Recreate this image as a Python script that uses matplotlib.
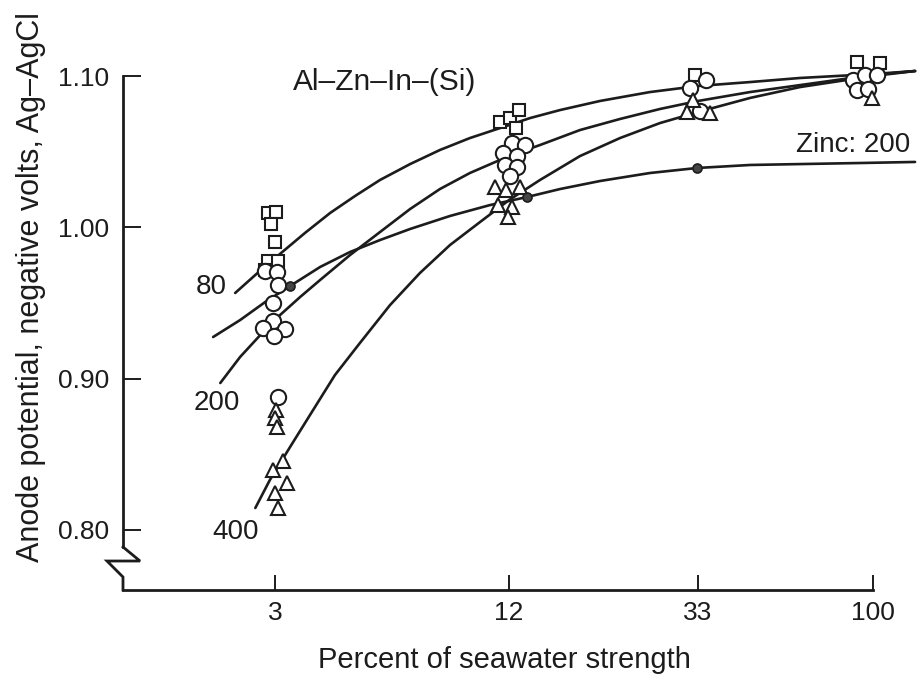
import numpy as np
import matplotlib
matplotlib.use('Agg')
import matplotlib.pyplot as plt

plt.rcParams['font.family'] = ['Liberation Sans', 'DejaVu Sans']

# percent seawater tick values and volts tick values
x_ticks = [3, 12, 33, 100]
y_ticks = [0.80, 0.90, 1.00, 1.10]

# measured points (percent, volts) for each anode current density
sq_x = [2.88, 3.02, 2.93, 3.0, 2.88, 3.05, 2.83, 11.38, 12.06, 12.66, 12.46, 32.5, 90.3, 104.5]
sq_y = [1.0095, 1.010, 1.0022, 0.9903, 0.9777, 0.9777, 0.9718, 1.0696, 1.0722, 1.0775, 1.0656, 1.1007, 1.1093, 1.1086]

ci_x = [2.83, 3.04, 3.05, 2.96, 2.96, 2.79, 3.18, 2.98, 3.05,
        12.19, 13.08, 11.58, 12.53, 11.72, 12.53, 12.06,
        31.6, 34.7, 33.4, 88.1, 95.1, 102.5, 90.3, 96.9]
ci_y = [0.9711, 0.9705, 0.9619, 0.950, 0.938, 0.9334, 0.9328, 0.9282, 0.8878,
        1.0557, 1.0544, 1.0491, 1.0471, 1.0412, 1.0399, 1.0339,
        1.0921, 1.0974, 1.0769, 1.0974, 1.1007, 1.1007, 1.0907, 1.0914]

tr_x = [3.02, 3.0, 3.04, 3.15, 2.96, 3.22, 3.0, 3.05,
        11.04, 11.8, 12.73, 11.24, 12.19, 11.93,
        32.1, 31.1, 35.6, 99.5]
tr_y = [0.8792, 0.874, 0.868, 0.8455, 0.8396, 0.831, 0.8244, 0.8145,
        1.0266, 1.0247, 1.0266, 1.0147, 1.0134, 1.0068,
        1.0841, 1.0762, 1.0755, 1.0855]

zn_x = [3.28, 13.21, 32.8]
zn_y = [0.9612, 1.020, 1.0392]

# hand-drawn fitted curves
c80_x = [2.37, 2.67, 3.09, 3.58, 4.16, 4.82, 5.59, 6.68, 7.97, 9.52, 11.38,
         13.43, 15.77, 19.53, 25.52, 33, 45.9, 63.0, 100, 130.5]
c80_y = [0.9566, 0.9685, 0.9824, 0.9962, 1.0095, 1.0207, 1.0313, 1.0418, 1.0511, 1.0590, 1.0656,
         1.0722, 1.0775, 1.0835, 1.0894, 1.0934, 1.0960, 1.0987, 1.1013, 1.1033]

c200_x = [2.17, 2.44, 2.75, 3.09, 3.48, 3.92, 4.68, 5.59, 6.68, 7.97, 9.52,
          12, 14.17, 17.55, 21.74, 26.92, 33, 45.9, 63.0, 100, 130.5]
c200_y = [0.8971, 0.9143, 0.9288, 0.9420, 0.9539, 0.9652, 0.9817, 0.9969, 1.0121, 1.0253, 1.0359,
          1.0471, 1.0544, 1.0643, 1.0716, 1.0782, 1.0835, 1.0894, 1.0940, 1.1007, 1.1033]

c400_x = [2.67, 2.91, 3.28, 3.69, 4.28, 4.96, 5.93, 7.08, 8.46, 10.11, 12,
          14.17, 17.55, 21.74, 26.92, 33, 45.9, 63.0, 100, 130.5]
c400_y = [0.8145, 0.8330, 0.8548, 0.8759, 0.9024, 0.9235, 0.9486, 0.9698, 0.9883, 1.0035, 1.0180,
          1.0313, 1.0471, 1.0590, 1.0689, 1.0762, 1.0855, 1.0927, 1.1000, 1.1033]

czn_x = [2.08, 2.44, 2.83, 3.28, 3.92, 4.68, 5.59, 6.68, 8.46, 10.72, 13.21,
         15.77, 19.53, 25.52, 32.8, 45.9, 63.0, 92.1, 130.5]
czn_y = [0.9275, 0.9387, 0.9506, 0.9612, 0.9738, 0.9837, 0.9916, 0.9989, 1.0075, 1.0147, 1.0200,
         1.0253, 1.0306, 1.0359, 1.0392, 1.0412, 1.0418, 1.0425, 1.0432]

# the printed axis is log-like but unevenly spaced between its ticks
knot_log = np.log10([0.3, 3, 12, 33, 100, 1000])
knot_pos = np.array([-114, 275, 509, 698, 873, 1237], dtype=float)


def fwd(x):
    x = np.clip(np.asarray(x, dtype=float), 1e-6, None)
    return np.interp(np.log10(x), knot_log, knot_pos)


def inv(p):
    return 10 ** np.interp(p, knot_pos, knot_log)


ink = '#1c1c1c'
fig = plt.figure(figsize=(9.19, 6.75), dpi=100)
ax = fig.add_axes([123 / 919, 85 / 675, 796 / 919, 550 / 675])
ax.set_xscale('function', functions=(fwd, inv))
ax.set_xlim(1.22, 133.8)
ax.set_ylim(0.7603, 1.1238)

lw = 1.9
for cx, cy in [(c80_x, c80_y), (c200_x, c200_y), (c400_x, c400_y), (czn_x, czn_y)]:
    ax.plot(cx, cy, color=ink, lw=lw, zorder=2, solid_capstyle='round',
            solid_joinstyle='round')

mk = dict(linestyle='none', markerfacecolor='white', markeredgecolor=ink,
          markeredgewidth=1.5, zorder=3)
ax.plot(sq_x, sq_y, marker='s', markersize=9, **mk)
ax.plot(ci_x, ci_y, marker='o', markersize=11, **mk)
ax.plot(tr_x, tr_y, marker='^', markersize=10.5, **mk)
ax.plot(zn_x, zn_y, marker='o', markersize=6.5, linestyle='none',
        markerfacecolor='#444444', markeredgecolor=ink, markeredgewidth=1.2, zorder=4)

fs = 19
ax.text(2.06, 0.9607, '80', fontsize=20, ha='center', va='center', color=ink)
ax.text(2.12, 0.8837, '200', fontsize=20, ha='center', va='center', color=ink)
ax.text(2.37, 0.7985, '400', fontsize=20, ha='center', va='center', color=ink)
ax.text(5.76, 1.0960, 'Al\u2013Zn\u2013In\u2013(Si)', fontsize=21.5, ha='center', va='center', color=ink)
ax.text(61.5, 1.0544, 'Zinc: 200', fontsize=20, ha='left', va='center', color=ink)

# axes frame with the broken y axis
for s in ['top', 'right']:
    ax.spines[s].set_visible(False)
ax.spines['left'].set_bounds(0.789, 1.10)
ax.spines['bottom'].set_bounds(1.22, 100)
for s in ['left', 'bottom']:
    ax.spines[s].set_linewidth(2.0)
    ax.spines[s].set_color(ink)
ax.plot([0, 0.0214, -0.0201, 0, 0], [0.0782, 0.0527, 0.0527, 0.0236, 0.0],
        transform=ax.transAxes, clip_on=False, color=ink, lw=2.0,
        solid_joinstyle='miter')

ax.set_xticks(x_ticks)
ax.set_xticklabels([str(t) for t in x_ticks])
ax.xaxis.set_minor_locator(matplotlib.ticker.NullLocator())
ax.set_yticks(y_ticks)
ax.set_yticklabels(['%.2f' % t for t in y_ticks])
ax.tick_params(axis='x', direction='in', length=11, width=1.4, pad=8,
               labelsize=fs, colors=ink)
ax.tick_params(axis='y', direction='in', length=13, width=1.4, pad=10,
               labelsize=fs, colors=ink)

fig.text(504 / 919, 15 / 675, 'Percent of seawater strength', fontsize=21,
         ha='center', va='center', color=ink)
fig.text(0.034, 0.575, 'Anode potential, negative volts, Ag\u2013AgCl', fontsize=22,
         rotation=90, ha='center', va='center', color=ink)

fig.savefig('out.png', dpi=100)
